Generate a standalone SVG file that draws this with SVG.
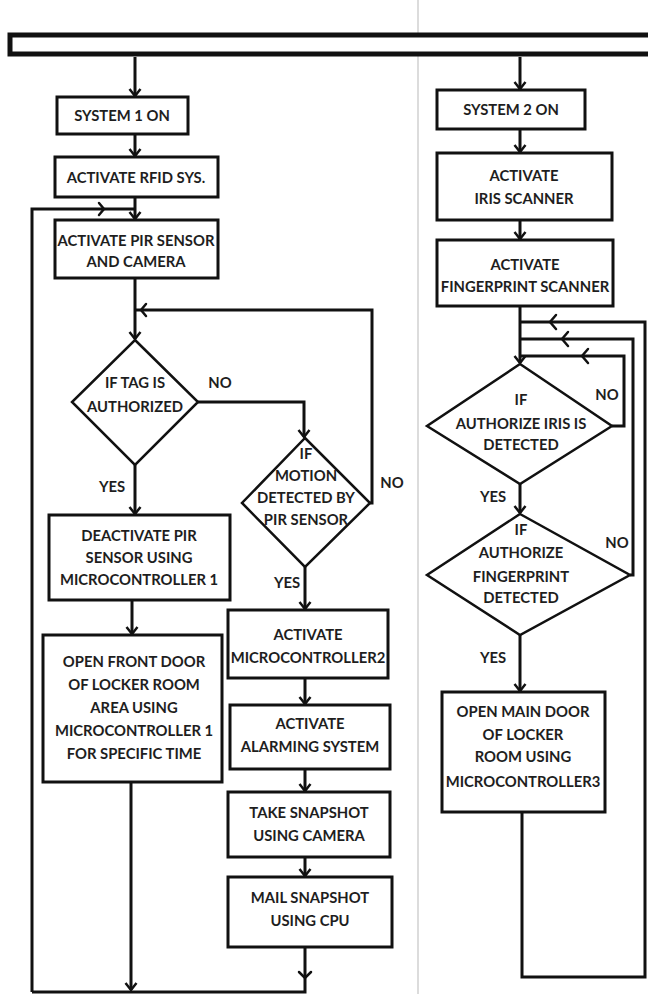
<svg xmlns="http://www.w3.org/2000/svg" width="648" height="994" viewBox="0 0 648 994">
<style>
.box{fill:#fff;stroke:#111;stroke-width:3}
.dia{fill:#fff;stroke:#111;stroke-width:2.5}
.ln{fill:none;stroke:#111;stroke-width:3}
.chev{fill:none;stroke:#111;stroke-width:2.5;stroke-linecap:round}
text{font-family:Lato,"Open Sans","Liberation Sans",sans-serif;font-weight:bold;font-size:14.8px;fill:#1e1e1e;text-anchor:middle}
</style>
<defs>
<marker id="ah" markerUnits="userSpaceOnUse" markerWidth="14" markerHeight="14" viewBox="-8 -7 10 14" refX="0" refY="0" orient="auto">
<path d="M-7,-5.5 L0,0 L-7,5.5" fill="none" stroke="#111" stroke-width="2.5"/>
</marker>
</defs>
<rect width="648" height="994" fill="#fff"/>
<line x1="418" y1="0" x2="418" y2="994" stroke="#dcdcdc" stroke-width="2"/>
<rect x="10" y="35" width="650" height="19" fill="#fff" stroke="#111" stroke-width="5"/>

<g id="connectors">
<path class="ln" d="M135,57 V96" marker-end="url(#ah)"/>
<path class="ln" d="M135,134 V156" marker-end="url(#ah)"/>
<path class="ln" d="M135,197 V219" marker-end="url(#ah)"/>
<path class="ln" d="M32,992 V209 H135"/>
<path class="chev" d="M99,203 L104,209 L99,215"/>
<path class="ln" d="M135,278 V339" marker-end="url(#ah)"/>
<path class="ln" d="M370,503 H372 V310 H135"/>
<path class="chev" d="M146,304 L141,310 L146,316"/>
<path class="ln" d="M198,402 H304 V437" marker-end="url(#ah)"/>
<path class="ln" d="M135,465 V514" marker-end="url(#ah)"/>
<path class="ln" d="M132,600 V634" marker-end="url(#ah)"/>
<path class="ln" d="M131,782 V990" marker-end="url(#ah)"/>
<path class="ln" d="M305,567 V609" marker-end="url(#ah)"/>
<path class="ln" d="M305,678 V704" marker-end="url(#ah)"/>
<path class="ln" d="M305,769 V791" marker-end="url(#ah)"/>
<path class="ln" d="M305,857 V876" marker-end="url(#ah)"/>
<path class="ln" d="M305,947 V992 H32"/>
<path class="chev" d="M299,972 L305,978 L311,972"/>

<path class="ln" d="M520,57 V89" marker-end="url(#ah)"/>
<path class="ln" d="M520,129 V152" marker-end="url(#ah)"/>
<path class="ln" d="M520,220 V239" marker-end="url(#ah)"/>
<path class="ln" d="M520,306 V363" marker-end="url(#ah)"/>
<path class="ln" d="M522,812 V977 H645 V322 H520"/>
<path class="ln" d="M630,575 H633 V339 H520"/>
<path class="ln" d="M612,426 H624 V356 H520"/>
<path class="chev" d="M556,315 L550,322 L556,329"/>
<path class="chev" d="M568,332 L562,339 L568,346"/>
<path class="chev" d="M588,349 L582,356 L588,363"/>
<path class="ln" d="M520,484 V513" marker-end="url(#ah)"/>
<path class="ln" d="M520,635 V691" marker-end="url(#ah)"/>
</g>

<g id="n_sys1"><rect class="box" x="57" y="97" width="131" height="37"/><text x="122" y="121">SYSTEM 1 ON</text></g>
<g id="n_rfid"><rect class="box" x="55" y="157" width="163" height="40"/><text x="136" y="183">ACTIVATE RFID SYS.</text></g>
<g id="n_pir"><rect class="box" x="55" y="220" width="163" height="58"/><text x="136" y="246">ACTIVATE PIR SENSOR</text><text x="136" y="267">AND CAMERA</text></g>
<g id="n_tag"><polygon class="dia" points="135,340 198,402 135,465 72,402"/><text x="135" y="388">IF TAG IS</text><text x="135" y="412">AUTHORIZED</text></g>
<g id="n_motion"><polygon class="dia" points="305,438 370,503 305,567 242,503"/><text x="306" y="459">IF</text><text x="306" y="481">MOTION</text><text x="306" y="503">DETECTED BY</text><text x="306" y="525">PIR SENSOR</text></g>
<g id="lbl_left"><text x="220" y="388">NO</text><text x="392" y="488">NO</text><text x="112" y="492">YES</text><text x="287" y="588">YES</text></g>
<g id="n_deact"><rect class="box" x="49" y="515" width="181" height="85"/><text x="139" y="541">DEACTIVATE PIR</text><text x="139" y="563">SENSOR USING</text><text x="139" y="585">MICROCONTROLLER 1</text></g>
<g id="n_open1"><rect class="box" x="43" y="635" width="179" height="147"/><text x="134" y="667">OPEN FRONT DOOR</text><text x="134" y="690">OF LOCKER ROOM</text><text x="134" y="713">AREA USING</text><text x="134" y="736">MICROCONTROLLER 1</text><text x="134" y="759">FOR SPECIFIC TIME</text></g>
<g id="n_mc2"><rect class="box" x="228" y="610" width="160" height="68"/><text x="308" y="640">ACTIVATE</text><text x="308" y="663">MICROCONTROLLER2</text></g>
<g id="n_alarm"><rect class="box" x="230" y="705" width="160" height="64"/><text x="310" y="729">ACTIVATE</text><text x="310" y="752">ALARMING SYSTEM</text></g>
<g id="n_snap"><rect class="box" x="228" y="792" width="162" height="65"/><text x="309" y="818">TAKE SNAPSHOT</text><text x="309" y="841">USING CAMERA</text></g>
<g id="n_mail"><rect class="box" x="228" y="877" width="164" height="70"/><text x="310" y="903">MAIL SNAPSHOT</text><text x="310" y="926">USING CPU</text></g>

<g id="n_sys2"><rect class="box" x="437" y="90" width="148" height="39"/><text x="511" y="115">SYSTEM 2 ON</text></g>
<g id="n_iris"><rect class="box" x="437" y="153" width="175" height="67"/><text x="524" y="181">ACTIVATE</text><text x="524" y="204">IRIS SCANNER</text></g>
<g id="n_fp"><rect class="box" x="437" y="240" width="176" height="66"/><text x="525" y="270">ACTIVATE</text><text x="525" y="292">FINGERPRINT SCANNER</text></g>
<g id="n_irisq"><polygon class="dia" points="520,364 612,426 520,484 427,426"/><text x="521" y="405">IF</text><text x="521" y="429">AUTHORIZE IRIS IS</text><text x="521" y="450">DETECTED</text></g>
<g id="n_fpq"><polygon class="dia" points="520,514 630,575 520,635 427,575"/><text x="521" y="535">IF</text><text x="521" y="558">AUTHORIZE</text><text x="521" y="582">FINGERPRINT</text><text x="521" y="603">DETECTED</text></g>
<g id="lbl_right"><text x="607" y="400">NO</text><text x="617" y="548">NO</text><text x="493" y="502">YES</text><text x="493" y="663">YES</text></g>
<g id="n_open2"><rect class="box" x="442" y="692" width="163" height="120"/><text x="523" y="717">OPEN MAIN DOOR</text><text x="523" y="740">OF LOCKER</text><text x="523" y="762">ROOM USING</text><text x="523" y="787">MICROCONTROLLER3</text></g>
</svg>
